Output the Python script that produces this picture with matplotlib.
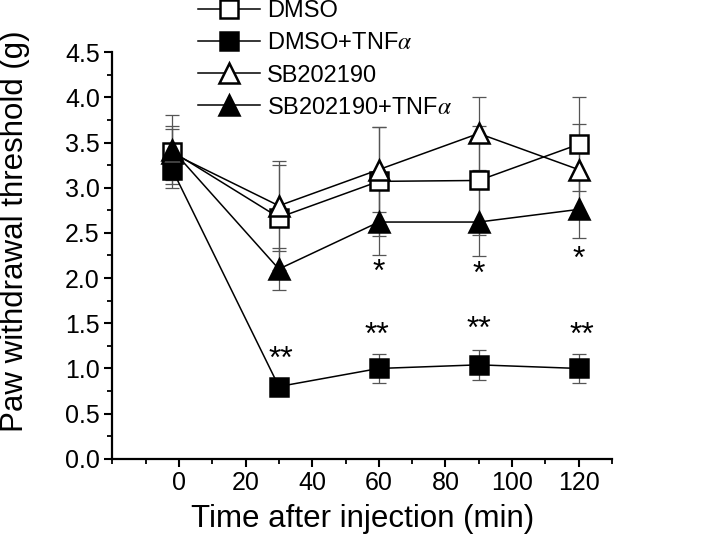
import matplotlib
matplotlib.use("Agg")
import matplotlib.pyplot as plt
from matplotlib.ticker import MultipleLocator

plt.rcParams['font.family'] = ['Liberation Sans', 'DejaVu Sans']
plt.rcParams['mathtext.fontset'] = 'stix'

# data
times = [-2, 30, 60, 90, 120]
dmso = [3.40, 2.67, 3.07, 3.08, 3.48]
dmso_err = [0.25, 0.58, 0.60, 0.60, 0.52]
dmso_tnf = [3.20, 0.80, 1.00, 1.04, 1.00]
dmso_tnf_err = [0.20, 0.05, 0.16, 0.165, 0.16]
sb = [3.38, 2.80, 3.20, 3.60, 3.20]
sb_err = [0.30, 0.50, 0.47, 0.40, 0.50]
sb_tnf = [3.42, 2.10, 2.62, 2.62, 2.76]
sb_tnf_err = [0.38, 0.23, 0.37, 0.38, 0.32]

labels = ['DMSO', r'DMSO+TNF$\alpha$', 'SB202190', r'SB202190+TNF$\alpha$']

# significance marks
star_x = [30.5, 59.5, 90, 121, 60, 90, 120]
star_y = [1.10, 1.36, 1.43, 1.36, 2.06, 2.04, 2.20]
star_txt = ['**', '**', '**', '**', '*', '*', '*']

fig = plt.figure(figsize=(7.2, 5.43), dpi=100)
ax = fig.add_axes([0.156, 0.155, 0.694, 0.749])

series = [
    (dmso, dmso_err, 's', 'white'),
    (dmso_tnf, dmso_tnf_err, 's', 'black'),
    (sb, sb_err, '^', 'white'),
    (sb_tnf, sb_tnf_err, '^', 'black'),
]

handles = []
for (vals, errs, mk, fc), lab in zip(series, labels):
    ax.errorbar(times, vals, yerr=errs, fmt='none', ecolor='#555555',
                elinewidth=0.9, capsize=5, capthick=0.9, zorder=2)
    h, = ax.plot(times, vals, color='black', lw=1.1, marker=mk,
                 markersize=13 if mk == 's' else 15, markerfacecolor=fc,
                 markeredgecolor='black', markeredgewidth=1.8, zorder=3,
                 label=lab)
    handles.append(h)

for x, y, t in zip(star_x, star_y, star_txt):
    ax.text(x, y, t, ha='center', va='center', fontsize=23)

ax.set_xlim(-20, 130)
ax.set_ylim(0, 4.5)
ax.xaxis.set_major_locator(MultipleLocator(20))
ax.xaxis.set_minor_locator(MultipleLocator(10))
ax.yaxis.set_major_locator(MultipleLocator(0.5))
ax.yaxis.set_minor_locator(MultipleLocator(0.25))
ax.set_xticks(range(0, 121, 20))
ax.spines['top'].set_visible(False)
ax.spines['right'].set_visible(False)
ax.spines['left'].set_linewidth(1.6)
ax.spines['bottom'].set_linewidth(1.6)
ax.tick_params(which='major', direction='out', length=6, width=1.5,
               labelsize=18, pad=3)
ax.tick_params(which='minor', direction='out', length=3.5, width=1.3)
ax.set_xlabel('Time after injection (min)', fontsize=22.5, labelpad=6)
ax.set_ylabel('Paw withdrawal threshold (g)', fontsize=22.5)
ax.yaxis.set_label_coords(-0.165, 0.56)

fig.legend(handles=handles, loc='upper left', bbox_to_anchor=(0.2525, 1.03),
           frameon=False, fontsize=17, handlelength=2.6, handletextpad=0.3,
           labelspacing=0.43, numpoints=1, borderpad=0.2)

fig.savefig('out.png', dpi=100)
